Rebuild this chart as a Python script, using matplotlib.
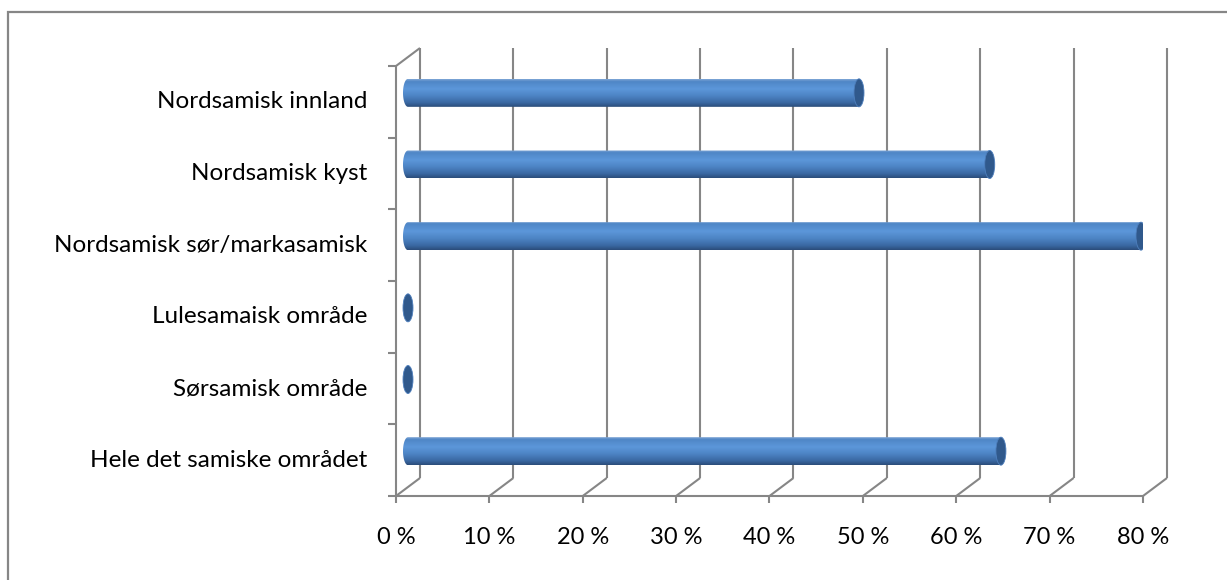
import numpy as np
import matplotlib
matplotlib.use('Agg')
import matplotlib.pyplot as plt
from matplotlib.patches import Ellipse, PathPatch, Rectangle
from matplotlib.path import Path

# -----------------------------
# Dados
# -----------------------------
kategorier = [
    'Hele det samiske området',
    'Sørsamisk område',
    'Lulesamaisk område',
    'Nordsamisk sør/markasamisk',
    'Nordsamisk kyst',
    'Nordsamisk innland',
]
andel = [63.5, 0, 0, 78.5, 62.3, 48.3]
x_ticks = [0, 10, 20, 30, 40, 50, 60, 70, 80]

plt.rcParams['font.family'] = ['Lato', 'DejaVu Sans']

W, H = 1227, 580
fig = plt.figure(figsize=(W / 100, H / 100), dpi=100)
ax = fig.add_axes([396 / W, 84 / H, 747 / W, 430 / H])
ax.set_xlim(0, 80)
ax.set_ylim(0, len(kategorier))
ax.axis('off')

# pixel -> data
p0 = ax.transData.transform((0, 0))
p1 = ax.transData.transform((1, 1))
px_x = p1[0] - p0[0]
px_y = p1[1] - p0[1]
dx, dy = 24 / px_x, 18 / px_y  # dybde

grid = dict(color='#868686', lw=1.5, clip_on=False, zorder=1,
            solid_capstyle='butt')

# bakvegg + gulv
for v in x_ticks:
    ax.plot([v + dx, v + dx], [dy, len(kategorier) + dy], **grid)
    ax.plot([v, v + dx], [0, dy], **grid)
    ax.plot([v, v], [0, -7 / px_y], **grid)
ax.plot([0, 80], [0, 0], **grid)
# venstre vegg
ax.plot([0, 0], [0, len(kategorier)], **grid)
ax.plot([0, dx], [len(kategorier), len(kategorier) + dy], **grid)
for k in range(len(kategorier) + 1):
    ax.plot([-8 / px_x, 0], [k, k], **grid)

# -----------------------------
# Sylindre
# -----------------------------
h = 28 / px_y
w = 10 / px_x
stops = [0.0, 0.08, 0.35, 0.6, 0.85, 1.0]
cols = ['#7fa6d6', '#4f86c6', '#5c97da', '#4d84c4', '#3a68a2', '#2b4d7b']
cols_rgb = np.array([matplotlib.colors.to_rgb(c) for c in cols])
t = np.linspace(0, 1, 60)
grad = np.stack([np.interp(t, stops, cols_rgb[:, i]) for i in range(3)], axis=1)
grad = grad[:, None, :]  # topp -> bunn

for i, v in enumerate(andel):
    yc = i + 0.5 + dy / 2
    xs = dx / 2
    xe = v + dx / 2
    if v > 0:
        th = np.linspace(np.pi / 2, 3 * np.pi / 2, 40)
        verts = [(xe, yc + h / 2), (xs, yc + h / 2)]
        verts += list(zip(xs + w / 2 * np.cos(th), yc + h / 2 * np.sin(th)))
        verts += [(xs, yc - h / 2), (xe, yc - h / 2), (xe, yc + h / 2)]
        body = PathPatch(Path(verts), facecolor='none', edgecolor='none')
        ax.add_patch(body)
        im = ax.imshow(grad, extent=(xs - w / 2, xe, yc - h / 2, yc + h / 2),
                       aspect='auto', origin='upper', zorder=3,
                       interpolation='bilinear')
        im.set_clip_path(body)
    cap = Ellipse((xe, yc), w, h, facecolor='#30598c',
                  edgecolor='#4e7fbd', lw=0.6, zorder=4)
    ax.add_patch(cap)

ax.set_xlim(0, 80)
ax.set_ylim(0, len(kategorier))

# -----------------------------
# Tekst
# -----------------------------
for i, navn in enumerate(kategorier):
    ax.text(-29 / px_x, i + 0.5, navn, ha='right', va='center',
            fontsize=17.5, color='#000000')
for v in x_ticks:
    ax.text(v, -41 / px_y, f'{v} %', ha='center', va='center',
            fontsize=17, color='#000000')

# ramme
fig.patches.append(Rectangle((8 / W, -0.1), 1.2, (568 / H) + 0.1,
                             transform=fig.transFigure, fill=False,
                             edgecolor='#868686', lw=1.6))

fig.savefig('out.png', dpi=100)
